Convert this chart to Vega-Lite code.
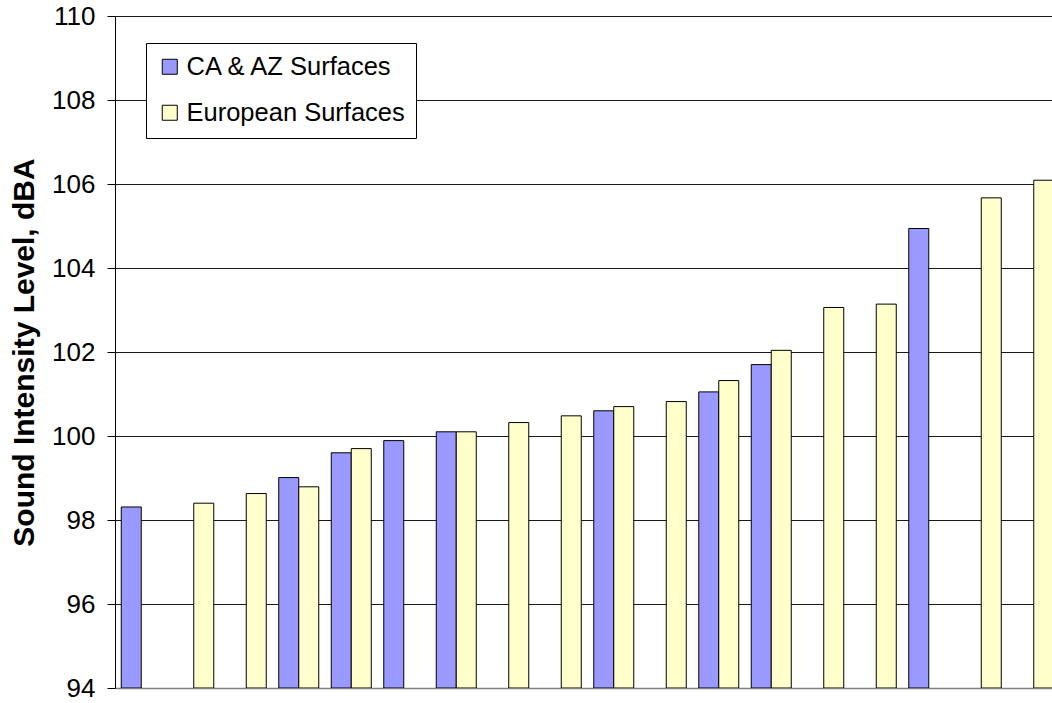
{
  "$schema": "https://vega.github.io/schema/vega-lite/v6.json",
  "autosize": {"type": "none"},
  "padding": {"left": 115, "top": 16, "right": 0, "bottom": 15},
  "width": 937,
  "height": 672,
  "background": "white",
  "config": {
    "view": {"stroke": null},
    "font": "Liberation Sans"
  },
  "data": {
    "values": [
      {"cat": 1, "series": "CA & AZ Surfaces", "level": 98.31},
      {"cat": 2, "series": "European Surfaces", "level": 98.40},
      {"cat": 3, "series": "European Surfaces", "level": 98.63},
      {"cat": 4, "series": "CA & AZ Surfaces", "level": 99.01},
      {"cat": 4, "series": "European Surfaces", "level": 98.79},
      {"cat": 5, "series": "CA & AZ Surfaces", "level": 99.60},
      {"cat": 5, "series": "European Surfaces", "level": 99.70},
      {"cat": 6, "series": "CA & AZ Surfaces", "level": 99.89},
      {"cat": 7, "series": "CA & AZ Surfaces", "level": 100.10},
      {"cat": 7, "series": "European Surfaces", "level": 100.10},
      {"cat": 8, "series": "European Surfaces", "level": 100.32},
      {"cat": 9, "series": "European Surfaces", "level": 100.48},
      {"cat": 10, "series": "CA & AZ Surfaces", "level": 100.60},
      {"cat": 10, "series": "European Surfaces", "level": 100.70},
      {"cat": 11, "series": "European Surfaces", "level": 100.82},
      {"cat": 12, "series": "CA & AZ Surfaces", "level": 101.05},
      {"cat": 12, "series": "European Surfaces", "level": 101.32},
      {"cat": 13, "series": "CA & AZ Surfaces", "level": 101.70},
      {"cat": 13, "series": "European Surfaces", "level": 102.04},
      {"cat": 14, "series": "European Surfaces", "level": 103.06},
      {"cat": 15, "series": "European Surfaces", "level": 103.14},
      {"cat": 16, "series": "CA & AZ Surfaces", "level": 104.94},
      {"cat": 17, "series": "European Surfaces", "level": 105.67},
      {"cat": 18, "series": "European Surfaces", "level": 106.09}
    ]
  },
  "mark": {"type": "bar", "stroke": "#000000", "strokeWidth": 1, "clip": true},
  "encoding": {
    "x": {
      "field": "cat",
      "type": "ordinal",
      "sort": "ascending",
      "scale": {"range": [0, 945], "paddingInner": 0, "paddingOuter": 0},
      "axis": {"labels": false, "ticks": false, "title": null, "domainColor": "#808080", "domainWidth": 1.5, "grid": false}
    },
    "xOffset": {
      "field": "series",
      "type": "nominal",
      "scale": {"domain": ["CA & AZ Surfaces", "European Surfaces"], "paddingInner": 0, "paddingOuter": 0.3125}
    },
    "y": {
      "field": "level",
      "type": "quantitative",
      "scale": {"domain": [94, 110], "zero": false, "nice": false},
      "axis": {
        "title": "Sound Intensity Level, dBA",
        "titleFont": "Liberation Sans",
        "titleFontSize": 30,
        "titleFontWeight": "bold",
        "titleColor": "#000000",
        "titleX": -82,
        "titleY": 336,
        "titleAngle": -90,
        "titleAlign": "center",
        "titleBaseline": "alphabetic",
        "values": [94, 96, 98, 100, 102, 104, 106, 108, 110],
        "labelFont": "Liberation Sans",
        "labelFontSize": 26,
        "labelColor": "#000000",
        "labelPadding": 12,
        "tickSize": 8,
        "tickColor": "#000000",
        "domainColor": "#000000",
        "grid": true,
        "gridColor": "#1a1a1a",
        "gridWidth": 1
      }
    },
    "y2": {"datum": 94},
    "fill": {
      "field": "series",
      "type": "nominal",
      "scale": {"domain": ["CA & AZ Surfaces", "European Surfaces"], "range": ["#9999FF", "#FFFFCC"]},
      "legend": {
        "title": null,
        "orient": "none",
        "legendX": 31,
        "legendY": 27,
        "padding": 11,
        "strokeColor": "#000000",
        "fillColor": "#FFFFFF",
        "symbolType": "square",
        "symbolSize": 225,
        "symbolStrokeColor": "#000000",
        "symbolStrokeWidth": 1,
        "symbolOpacity": 1,
        "labelFont": "Liberation Sans",
        "labelFontSize": 25.5,
        "labelLimit": 0,
        "labelColor": "#000000",
        "labelOffset": 4,
        "rowPadding": 19
      }
    }
  }
}
